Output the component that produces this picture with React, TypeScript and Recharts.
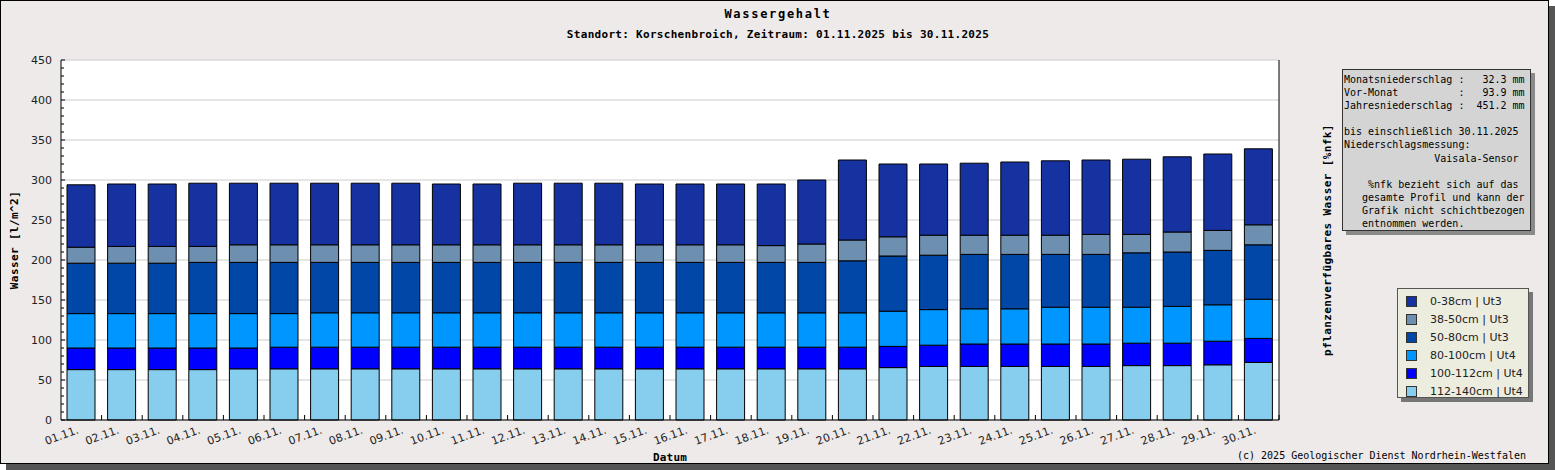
import React from "react";
import { BarChart, Bar, XAxis, YAxis, CartesianGrid, Legend } from "recharts";

const days = [
  "01.11.", "02.11.", "03.11.", "04.11.", "05.11.", "06.11.", "07.11.", "08.11.", "09.11.", "10.11.",
  "11.11.", "12.11.", "13.11.", "14.11.", "15.11.", "16.11.", "17.11.", "18.11.", "19.11.", "20.11.",
  "21.11.", "22.11.", "23.11.", "24.11.", "25.11.", "26.11.", "27.11.", "28.11.", "29.11.", "30.11.",
];

// layer contents in l/m^2 (bottom layer first)
const layer112to140 = [63, 63, 63, 63, 64, 64, 64, 64, 64, 64, 64, 64, 64, 64, 64, 64, 64, 64, 64, 64, 65.5, 67, 67, 67, 67, 67, 68, 68, 69, 72];
const layer100to112 = [27, 27, 27, 27, 26, 27, 27, 27, 27, 27, 27, 27, 27, 27, 27, 27, 27, 27, 27, 27, 26.5, 26.5, 28, 28, 28, 28, 28, 28, 29.5, 30];
const layer80to100 = [43, 43, 43, 43, 43, 42, 43, 43, 43, 43, 43, 43, 43, 43, 43, 43, 43, 43, 43, 43, 44, 44.5, 44, 44, 46, 46, 45, 46, 45.5, 49];
const layer50to80 = [63, 63, 63, 64, 64, 64, 63, 63, 63, 63, 63, 63, 63, 63, 63, 63, 63, 63, 63, 65, 69, 68, 68, 68, 66, 66, 68, 68, 68, 68];
const layer38to50 = [20, 21, 21, 20, 22, 22, 22, 22, 22, 22, 22, 22, 22, 22, 22, 22, 22, 21, 23, 26, 24, 25, 24, 24, 24, 25, 23, 25, 25, 25];
const layer0to38 = [78, 78, 78, 79, 77, 77, 77, 77, 77, 76, 76, 77, 77, 77, 76, 76, 76, 77, 80, 100, 91, 89, 90, 91.5, 93, 93, 94, 94, 95.5, 95];

const leftTicks = [0, 10, 20, 30, 40, 50, 60, 70, 80, 90, 100, 110, 120, 130, 140, 150, 160, 170, 180, 190, 200,
  210, 220, 230, 240, 250, 260, 270, 280, 290, 300, 310, 320, 330, 340, 350, 360, 370, 380, 390, 400,
  410, 420, 430, 440, 450];
const leftMajor = [0, 50, 100, 150, 200, 250, 300, 350, 400, 450];
const rightTicks = [0, 10, 20, 30, 40, 50, 60, 70, 80, 90, 100, 110, 120, 130, 140];

const infoLines = [
  "Monatsniederschlag :   32.3 mm",
  "Vor-Monat          :   93.9 mm",
  "Jahresniederschlag :  451.2 mm",
  "",
  "bis einschließlich 30.11.2025",
  "Niederschlagsmessung:",
  "               Vaisala-Sensor",
  "",
  "    %nfk bezieht sich auf das",
  "   gesamte Profil und kann der",
  "   Grafik nicht schichtbezogen",
  "   entnommen werden.",
];

const series = [
  { key: "l112", name: "112-140cm | Ut4", color: "#87ceee", values: layer112to140 },
  { key: "l100", name: "100-112cm | Ut4", color: "#0000ff", values: layer100to112 },
  { key: "l80", name: "80-100cm | Ut4", color: "#0096ff", values: layer80to100 },
  { key: "l50", name: "50-80cm | Ut3", color: "#0047a8", values: layer50to80 },
  { key: "l38", name: "38-50cm | Ut3", color: "#6d8fb0", values: layer38to50 },
  { key: "l0", name: "0-38cm | Ut3", color: "#1632a0", values: layer0to38 },
];

const data = days.map((day, i) => {
  const row: Record<string, string | number> = { day };
  series.forEach((s) => (row[s.key] = s.values[i]));
  return row;
});

const W = 1555;
const H = 470;
const PLOT_LEFT = 61;
const PLOT_RIGHT = 1279;
const PLOT_TOP = 60;
const PLOT_BOTTOM = 420;
const BAND = (PLOT_RIGHT - PLOT_LEFT) / days.length;

const mono = "'DejaVu Sans Mono', monospace";
const sans = "'DejaVu Sans', sans-serif";

const XTick = (props: any) => {
  const { x, y, payload } = props;
  return (
    <g>
      <line x1={x + BAND / 2} x2={x + BAND / 2} y1={y} y2={y - 5} stroke="#000" />
      <text
        x={x - 2}
        y={y + 13}
        transform={`rotate(-20 ${x - 2} ${y + 13})`}
        textAnchor="end"
        fontFamily={sans}
        fontSize={11}
        fill="#222"
      >
        {payload.value}
      </text>
    </g>
  );
};

const LeftTick = (props: any) => {
  const { x, y, payload } = props;
  const major = payload.value % 50 === 0;
  return (
    <g>
      <line x1={x} x2={x + (major ? 4 : 3)} y1={y} y2={y} stroke="#000" />
      {major && (
        <text x={x - 9} y={y + 4} textAnchor="end" fontFamily={sans} fontSize={11} fill="#222">
          {payload.value}
        </text>
      )}
    </g>
  );
};

const RightTick = (props: any) => {
  const { x, y, payload } = props;
  const major = payload.value % 20 === 0;
  return (
    <g>
      <line x1={x - 3} x2={x + (major ? 3 : 0)} y1={y} y2={y} stroke="#000" />
      {major && (
        <text x={x + 9} y={y + 4} textAnchor="start" fontFamily={sans} fontSize={11} fill="#222">
          {payload.value}
        </text>
      )}
    </g>
  );
};

const LegendBox = (props: any) => {
  const byName = new Map((props.payload || []).map((p: any) => [p.value, p]));
  // top layer first, as in the original legend
  const items = [...series].reverse().map((s) => byName.get(s.name) as any).filter(Boolean);
  return (
    <div
      style={{
        width: 130,
        height: 105,
        background: "#ececdf",
        border: "1px solid #555",
        boxShadow: "4px 4px 0 #777",
        paddingTop: 3,
        boxSizing: "content-box",
      }}
    >
      {items.map((e: any) => (
        <div key={e.value} style={{ display: "flex", alignItems: "center", height: 18 }}>
          <span
            style={{
              display: "inline-block",
              width: 9,
              height: 9,
              marginLeft: 8,
              marginRight: 13,
              background: e.color,
              border: "1px solid #333",
            }}
          />
          <span style={{ fontFamily: sans, fontSize: 11, color: "#222", whiteSpace: "nowrap" }}>{e.value}</span>
        </div>
      ))}
    </div>
  );
};

const abs = (left: number, top: number, extra: React.CSSProperties = {}): React.CSSProperties => ({
  position: "absolute",
  left,
  top,
  whiteSpace: "nowrap",
  ...extra,
});

export default function App() {
  return (
    <div style={{ position: "absolute", left: 0, top: 0, width: W, height: H, background: "#fff" }}>
      <div
        style={{
          position: "absolute",
          left: 0,
          top: 0,
          width: 1547,
          height: 462,
          background: "#edeae9",
          border: "1px solid #000",
          boxShadow: "6px 6px 0 #555",
        }}
      />
      <div style={abs(778, 14, { transform: "translate(-50%,-50%)", fontFamily: mono, fontWeight: "bold", fontSize: 12, letterSpacing: 1.7, color: "#000" })}>
        Wassergehalt
      </div>
      <div style={abs(778, 34, { transform: "translate(-50%,-50%)", fontFamily: mono, fontWeight: "bold", fontSize: 11, letterSpacing: 0.3, color: "#000" })}>
        Standort: Korschenbroich, Zeitraum: 01.11.2025 bis 30.11.2025
      </div>
      <div style={abs(14, 240, { transform: "translate(-50%,-50%) rotate(-90deg)", fontFamily: mono, fontWeight: "bold", fontSize: 11, letterSpacing: 0.4 })}>
        Wasser [l/m^2]
      </div>
      <div style={abs(1327, 240, { transform: "translate(-50%,-50%) rotate(-90deg)", fontFamily: mono, fontWeight: "bold", fontSize: 11, letterSpacing: 0.4 })}>
        pflanzenverfügbares Wasser [%nfk]
      </div>
      <div style={abs(670, 457, { transform: "translate(-50%,-50%)", fontFamily: mono, fontWeight: "bold", fontSize: 11, letterSpacing: 0.2 })}>
        Datum
      </div>
      <div style={abs(1237, 455, { transform: "translateY(-50%)", fontFamily: mono, fontSize: 10 })}>
        (c) 2025 Geologischer Dienst Nordrhein-Westfalen
      </div>
      <div
        style={abs(1342, 69, {
          width: 187,
          height: 160,
          background: "#d4d4d4",
          border: "1px solid #333",
          boxShadow: "4px 4px 0 #8a8a8a",
        })}
      >
        <div style={{ padding: "3px 0 0 1px", fontFamily: mono, fontSize: 10, lineHeight: "13.1px", color: "#000", whiteSpace: "pre" }}>
          {infoLines.map((l, i) => (
            <div key={i} style={{ height: 13.1 }}>{l}</div>
          ))}
        </div>
      </div>
      <div style={{ position: "absolute", left: 0, top: 0 }}>
        <BarChart
          width={W}
          height={H}
          data={data}
          margin={{ top: PLOT_TOP, left: 0, right: W - PLOT_RIGHT - 60, bottom: 0 }}
          barSize={28}
        >
          <CartesianGrid yAxisId="left" vertical={false} horizontalValues={leftMajor} stroke="#cccccc" fill="#ffffff" />
          <XAxis
            dataKey="day"
            height={H - PLOT_BOTTOM}
            interval={0}
            tickSize={0}
            tickMargin={0}
            tickLine={false}
            axisLine={{ stroke: "#000" }}
            tick={<XTick />}
          />
          <YAxis
            yAxisId="left"
            width={PLOT_LEFT}
            domain={[0, 450]}
            ticks={leftTicks}
            interval={0}
            tickSize={0}
            tickMargin={0}
            tickLine={false}
            axisLine={{ stroke: "#000" }}
            tick={<LeftTick />}
          />
          <YAxis
            yAxisId="right"
            orientation="right"
            width={60}
            domain={[0, 145.7]}
            ticks={rightTicks}
            interval={0}
            tickSize={0}
            tickMargin={0}
            tickLine={false}
            axisLine={{ stroke: "#000" }}
            tick={<RightTick />}
          />
          {series.map((s) => (
            <Bar
              key={s.key}
              yAxisId="left"
              dataKey={s.key}
              name={s.name}
              stackId="soil"
              fill={s.color}
              stroke="#000"
              strokeWidth={1}
              isAnimationActive={false}
            />
          ))}
          <Legend
            layout="vertical"
            align="center"
            verticalAlign="middle"
            content={<LegendBox />}
            wrapperStyle={{ left: 1397, top: 288, width: 132 }}
          />
        </BarChart>
      </div>
    </div>
  );
}
